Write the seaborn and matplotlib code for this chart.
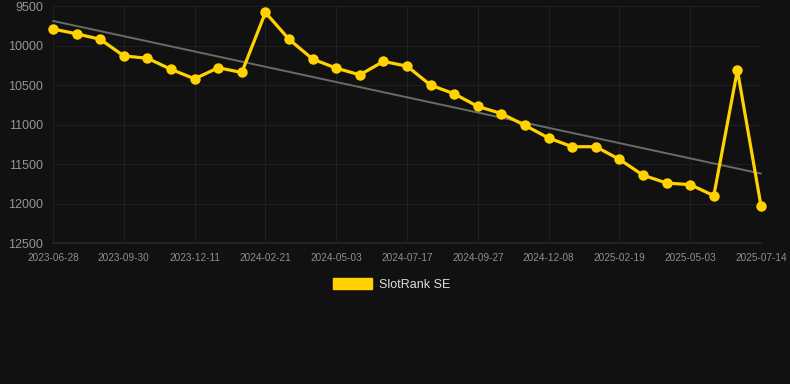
import numpy as np
import pandas as pd
import seaborn as sns
import matplotlib.pyplot as plt
from matplotlib.patches import Patch

# rank of the slot over time (lower is better, axis inverted)
dates = ['2023-06-28', '2023-07-29', '2023-08-30', '2023-09-30', '2023-10-24', '2023-11-17',
         '2023-12-11', '2024-01-04', '2024-01-28', '2024-02-21', '2024-03-15', '2024-04-09',
         '2024-05-03', '2024-05-28', '2024-06-22', '2024-07-17', '2024-08-10', '2024-09-03',
         '2024-09-27', '2024-10-21', '2024-11-14', '2024-12-08', '2025-01-01', '2025-01-25',
         '2025-02-19', '2025-03-15', '2025-04-08', '2025-05-03', '2025-05-27', '2025-06-20',
         '2025-07-14']
rank = [9790, 9850, 9920, 10130, 10160, 10300, 10420, 10280, 10340, 9580,
        9920, 10170, 10285, 10370, 10200, 10260, 10500, 10610, 10770, 10860,
        11010, 11170, 11280, 11280, 11440, 11640, 11740, 11760, 11900, 10310,
        12030]
y_ticks = [9500, 10000, 10500, 11000, 11500, 12000, 12500]
series_name = 'SlotRank SE'

df = pd.DataFrame({'date': dates, 'rank': rank})
df['idx'] = np.arange(len(df))

bg = '#111111'
gold = '#FFD200'

sns.set_theme(style='dark')
plt.rcParams['font.family'] = ['Liberation Sans', 'DejaVu Sans']

fig = plt.figure(figsize=(7.9, 3.84), dpi=100, facecolor=bg)
ax = fig.add_axes([0.0671, 0.367, 0.8962, 0.617])
ax.set_facecolor(bg)

sns.regplot(data=df, x='idx', y='rank', scatter=False, ci=None, ax=ax,
            line_kws={'color': '#6a6a6a', 'lw': 1.4, 'zorder': 2})
sns.lineplot(data=df, x='idx', y='rank', ax=ax, color=gold, lw=2.3,
             marker='o', markersize=7.5, markeredgewidth=0, zorder=3)
for ln in ax.lines:
    ln.set_clip_on(False)

ax.set_xlim(0, len(df) - 1)
ax.set_ylim(12500, 9500)
ax.set_yticks(y_ticks)
ax.set_yticklabels([str(v) for v in y_ticks], fontsize=9, color='#959595')
tick_idx = df['idx'][::3]
ax.set_xticks(tick_idx)
ax.set_xticklabels(df['date'][::3], fontsize=7.2, color='#8f8f8f')
ax.tick_params(axis='y', length=0, pad=7)
ax.tick_params(axis='x', length=4, color='#222222', pad=3)
ax.grid(True, color='#1f1f1f', lw=0.8)
ax.set_xlabel('')
ax.set_ylabel('')
for s in ax.spines.values():
    s.set_visible(False)
ax.spines['bottom'].set_visible(True)
ax.spines['bottom'].set_color('#262626')

fig.legend(handles=[Patch(color=gold, label=series_name)], loc='center',
           bbox_to_anchor=(0.496, 0.26), frameon=False, fontsize=9,
           labelcolor='#dddddd', handlelength=3.1, handleheight=1.0,
           handletextpad=0.6)

fig.savefig('out.png', dpi=100, facecolor=bg)
